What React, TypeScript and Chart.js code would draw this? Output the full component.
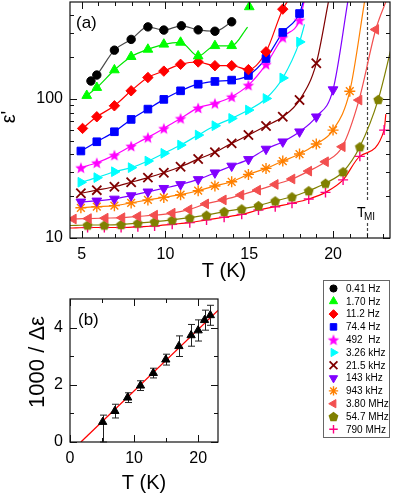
import React, { useEffect, useRef } from 'react';
import { Chart, registerables } from 'chart.js';
import { drawPoint } from 'chart.js/helpers';

Chart.register(...registerables);

const FONT = "'Liberation Sans', Arial, Helvetica, sans-serif";

// ---------- Panel (a): epsilon' vs T ----------
const LABELS = ['0.41 Hz', '1.70 Hz', '11.2 Hz', '74.4 Hz', '492  Hz', '3.26 kHz', '21.5 kHz', '143 kHz', '943 kHz', '3.80 MHz', '54.7 MHz', '790 MHz'];

const T_041 = [5.55, 5.9, 6.95, 7.95, 8.95, 9.9, 10.95, 11.95, 12.95, 13.95];
const E_041 = [135, 149, 225, 269, 331, 314, 337, 315, 308, 360];

const T_170 = [5.3, 5.9, 6.95, 7.95, 8.95, 9.9, 10.9, 11.95, 12.95, 13.95, 15.0];
const E_170 = [106, 121, 162, 202, 228, 248, 256, 204, 242, 242, 461];

const T_112 = [5.05, 5.9, 6.95, 7.95, 8.95, 9.9, 10.9, 11.95, 12.95, 13.95, 14.95, 16.0, 17.0];
const E_112 = [61.5, 74.6, 89.5, 114.7, 143, 159, 178, 185, 174, 174, 163, 219, 444];

const T_744 = [4.95, 5.9, 6.95, 7.95, 8.95, 9.9, 10.9, 11.95, 12.95, 13.95, 14.95, 16.0, 17.0, 18.0];
const E_744 = [42.3, 49.3, 58.2, 71.4, 84.7, 99.5, 114.7, 128, 134, 137, 148, 196, 302, 413];

const T_492 = [4.95, 5.9, 6.95, 7.95, 8.95, 9.9, 10.9, 11.95, 12.95, 13.95, 14.95, 16.0, 17.0, 18.0];
const E_492 = [32.1, 34.8, 39.5, 45.9, 53, 61.5, 72.6, 86.4, 93.1, 103.9, 126, 178, 278, 370];

const T_326 = [4.95, 5.9, 6.95, 7.95, 8.95, 9.9, 10.9, 11.95, 12.95, 13.95, 14.95, 16.0, 17.0, 18.0];
const E_326 = [25.2, 27.2, 30, 32.1, 35.8, 40.7, 46.7, 55.1, 64.3, 72.6, 83.4, 101, 142, 258];

const T_215 = [4.95, 5.9, 6.95, 7.95, 8.95, 9.9, 10.9, 11.95, 12.95, 13.95, 14.95, 16.0, 17.0, 18.0, 19.0];
const E_215 = [21, 22.1, 23.4, 25.2, 27.2, 29.5, 32.6, 37, 41.4, 48, 55.1, 64, 74.6, 98.4, 181];

const T_143 = [4.95, 5.9, 6.95, 7.95, 8.95, 9.9, 10.9, 11.95, 12.95, 13.95, 14.95, 16.0, 17.0, 18.0, 19.0, 20.0];
const E_143 = [18.2, 18.5, 19.1, 20.2, 21.5, 22.8, 24.3, 26.4, 29.5, 33, 36.8, 43.7, 49.3, 58.2, 74.6, 117];

const T_943 = [4.95, 5.9, 6.95, 7.95, 8.95, 9.9, 10.9, 11.95, 12.95, 13.95, 14.95, 16.0, 17.0, 18.0, 19.0, 20.0, 21.0];
const E_943 = [16.5, 16.8, 17.1, 17.9, 18.8, 19.6, 20.5, 21.9, 23.7, 25.4, 28.7, 31.7, 35.8, 40.2, 47.5, 59.8, 114];

const T_380 = [4.5, 5.4, 6.4, 7.4, 8.35, 9.35, 10.4, 11.4, 12.4, 13.45, 14.5, 15.5, 16.55, 17.55, 18.55, 19.55, 20.55, 21.55, 22.55];
const E_380 = [13.7, 13.8, 13.9, 14.0, 14.3, 14.6, 15.1, 16.0, 17.6, 18.8, 20.4, 22.1, 24.3, 26.6, 30.3, 35.4, 45.4, 98.4, 317];

const T_547 = [5.35, 6.35, 7.35, 8.35, 9.35, 10.4, 11.45, 12.45, 13.5, 14.55, 15.55, 16.55, 17.55, 18.55, 19.55, 20.6, 21.6, 22.7];
const E_547 = [12.4, 12.4, 12.5, 12.8, 13.1, 13.5, 14.0, 14.6, 15.5, 16.2, 17.1, 18.5, 19.8, 21.9, 24.8, 30, 45.4, 99.5];

const T_790 = [5.35, 6.35, 7.35, 8.35, 9.35, 10.4, 11.45, 12.45, 13.5, 14.55, 15.55, 16.55, 17.55, 18.55, 19.55, 20.6, 21.6, 23.05];
const E_790 = [11.9, 11.9, 11.9, 12.05, 12.2, 12.55, 12.9, 13.5, 14.1, 14.8, 15.9, 16.8, 17.8, 19.1, 21.3, 26.2, 38.7, 59.8];

// fit-curve end points (where each fitted curve starts / stops)
const FIT_START_T = [null, null, null, null, null, null, null, null, null, 4.3, 4.3, 4.3];
const FIT_START_E = [null, null, null, null, null, null, null, null, null, 13.6, 12.3, 11.8];
const FIT_END_T = [null, 14.9, 17.35, 18.25, 18.3, 18.3, 19.75, 20.9, 21.9, 23.2, 23.5, 23.15];
const FIT_END_E = [null, 330, 520, 520, 520, 345, 520, 520, 520, 520, 240, 78];

const T_MI = 22;

const A_X_MAJOR = [5, 10, 15, 20];
const A_X_MINOR = [6, 7, 8, 9, 11, 12, 13, 14, 16, 17, 18, 19, 21, 22, 23];
const A_Y_MAJOR = [10, 100];
const A_Y_MINOR = [20, 30, 40, 50, 60, 70, 80, 90, 200, 300, 400];

// ---------- Panel (b): 1000/Δε vs T ----------
const B_T = [5.1, 7.0, 9.0, 11.0, 13.0, 14.95, 17.0, 18.9, 20.0, 21.0, 21.9];
const B_V = [0.70, 1.08, 1.55, 1.97, 2.41, 2.88, 3.35, 3.73, 3.90, 4.26, 4.43];
const B_ERR_LO = [0.70, 0.24, 0.17, 0.17, 0.17, 0.19, 0.36, 0.38, 0.37, 0.35, 0.35];
const B_ERR_HI = [0.24, 0.24, 0.17, 0.17, 0.17, 0.19, 0.36, 0.38, 0.37, 0.35, 0.35];
const B_FIT_T = [1.7, 23.1];
const B_FIT_V = [0, 4.6];

const B_X_MAJOR = [0, 10, 20];
const B_X_MINOR = [5, 15];
const B_Y_MAJOR = [0, 2, 4];
const B_Y_MINOR = [1, 3];

function zip(t: number[], e: number[]) {
  return t.map((x, i) => ({ x, y: e[i] }));
}

function makeStar(color: string, R: number, r: number) {
  const c = document.createElement('canvas');
  const s = Math.ceil(R * 2 + 2);
  c.width = s; c.height = s;
  const g = c.getContext('2d')!;
  g.fillStyle = color;
  g.beginPath();
  for (let k = 0; k < 10; k++) {
    const a = -Math.PI / 2 + (k * Math.PI) / 5;
    const rr = k % 2 === 0 ? R : r;
    const px = s / 2 + rr * Math.cos(a), py = s / 2 + rr * Math.sin(a) + 0.6;
    if (k === 0) g.moveTo(px, py); else g.lineTo(px, py);
  }
  g.closePath();
  g.fill();
  return c;
}

function makePentagon(color: string, R: number) {
  const c = document.createElement('canvas');
  const s = Math.ceil(R * 2 + 2);
  c.width = s; c.height = s;
  const g = c.getContext('2d')!;
  g.fillStyle = color;
  g.beginPath();
  for (let k = 0; k < 5; k++) {
    const a = -Math.PI / 2 + (k * 2 * Math.PI) / 5;
    const px = s / 2 + R * Math.cos(a), py = s / 2 + R * Math.sin(a) + 0.5;
    if (k === 0) g.moveTo(px, py); else g.lineTo(px, py);
  }
  g.closePath();
  g.fill();
  return c;
}

function drawAxesFrame(chart: any, xMaj: number[], xMin: number[], yMaj: number[], yMin: number[], majLen: number, minLen: number) {
  const { ctx, chartArea } = chart;
  const { left, right, top, bottom } = chartArea;
  const sx = chart.scales.x, sy = chart.scales.y;
  ctx.save();
  ctx.strokeStyle = '#111';
  ctx.lineWidth = 1.2;
  ctx.strokeRect(left, top, right - left, bottom - top);
  ctx.lineWidth = 1;
  ctx.beginPath();
  const vx = (v: number, len: number) => {
    const p = Math.round(sx.getPixelForValue(v)) + 0.5;
    ctx.moveTo(p, bottom); ctx.lineTo(p, bottom - len);
    ctx.moveTo(p, top); ctx.lineTo(p, top + len);
  };
  const vy = (v: number, len: number) => {
    const p = Math.round(sy.getPixelForValue(v)) + 0.5;
    ctx.moveTo(left, p); ctx.lineTo(left + len, p);
    ctx.moveTo(right, p); ctx.lineTo(right - len, p);
  };
  xMaj.forEach((v) => vx(v, majLen));
  xMin.forEach((v) => vx(v, minLen));
  yMaj.forEach((v) => vy(v, majLen));
  yMin.forEach((v) => vy(v, minLen));
  ctx.stroke();
  ctx.restore();
}

function rotatedText(ctx: CanvasRenderingContext2D, text: string, x: number, y: number, font: string) {
  ctx.save();
  ctx.translate(x, y);
  ctx.rotate(-Math.PI / 2);
  ctx.font = font;
  ctx.fillStyle = '#000';
  ctx.textAlign = 'center';
  ctx.textBaseline = 'alphabetic';
  ctx.fillText(text, 0, 0);
  ctx.restore();
}

const fixX = (h: number) => (s: any) => { s.height = h; s.paddingLeft = 0; s.paddingRight = 0; s.paddingTop = 0; s.paddingBottom = 0; };
const fixY = (w: number) => (s: any) => { s.width = w; s.paddingTop = 0; s.paddingBottom = 0; s.paddingLeft = 0; s.paddingRight = 0; };

export default function App() {
  const refA = useRef<HTMLCanvasElement>(null);
  const refB = useRef<HTMLCanvasElement>(null);

  useEffect(() => {
    Chart.defaults.font.family = FONT;
    Chart.defaults.color = '#000';

    const starImg = makeStar('#ff00ff', 6, 2.6);
    const pentImg = makePentagon('#808000', 5.2);

    const STYLES: any[] = [
      { color: '#000000', line: '#4a4a4a', style: 'circle', r: 4.2, rot: 0, bw: 1 },
      { color: '#00ff00', line: '#00e600', style: 'triangle', r: 5.6, rot: 0, bw: 1 },
      { color: '#ff0000', line: '#ff0000', style: 'rectRot', r: 5.2, rot: 0, bw: 1 },
      { color: '#0000ff', line: '#0000ff', style: 'rect', r: 5.4, rot: 0, bw: 1 },
      { color: '#ff00ff', line: '#ff00ff', style: starImg, r: 5, rot: 0, bw: 0 },
      { color: '#00ffff', line: '#00f0f0', style: 'triangle', r: 5.6, rot: 90, bw: 1 },
      { color: '#800000', line: '#800000', style: 'crossRot', r: 6.5, rot: 0, bw: 1.8 },
      { color: '#8000ff', line: '#8000ff', style: 'triangle', r: 5.6, rot: 180, bw: 1 },
      { color: '#ff8000', line: '#ff8000', style: 'star', r: 5.5, rot: 0, bw: 1.4 },
      { color: '#f24f4f', line: '#f24f4f', style: 'triangle', r: 5.6, rot: 270, bw: 1 },
      { color: '#808000', line: '#808000', style: pentImg, r: 5, rot: 0, bw: 0 },
      { color: '#ff0080', line: '#ff0000', style: 'cross', r: 5, rot: 0, bw: 1.4 },
    ];

    const SERIES_T = [T_041, T_170, T_112, T_744, T_492, T_326, T_215, T_143, T_943, T_380, T_547, T_790];
    const SERIES_E = [E_041, E_170, E_112, E_744, E_492, E_326, E_215, E_143, E_943, E_380, E_547, E_790];

    const datasetsA: any[] = [];
    SERIES_T.forEach((t, i) => {
      const st = STYLES[i];
      const pts = zip(t, SERIES_E[i]);
      const endT = FIT_END_T[i];
      const linePts = [
        ...(FIT_START_T[i] != null ? [{ x: FIT_START_T[i] as number, y: FIT_START_E[i] as number }] : []),
        ...pts.filter((p) => endT == null || p.x < endT),
        ...(endT != null ? [{ x: endT as number, y: FIT_END_E[i] as number }] : []),
      ];
      datasetsA.push({
        label: LABELS[i] + ' fit', data: linePts, borderColor: st.line, borderWidth: 1.2,
        pointRadius: 0, cubicInterpolationMode: 'monotone', fill: false, order: 2,
      });
      datasetsA.push({
        label: LABELS[i], data: pts, showLine: false, pointStyle: st.style, pointRadius: st.r,
        pointRotation: st.rot, backgroundColor: st.color, borderColor: st.color,
        pointBorderWidth: st.bw, order: 1,
      });
    });

    const pluginA = {
      id: 'panelA',
      beforeDatasetsDraw(chart: any) {
        const { ctx, chartArea } = chart;
        const px = Math.round(chart.scales.x.getPixelForValue(T_MI)) + 0.5;
        ctx.save();
        ctx.strokeStyle = '#444';
        ctx.lineWidth = 1.2;
        ctx.setLineDash([3, 2]);
        ctx.beginPath();
        ctx.moveTo(px, chartArea.top);
        ctx.lineTo(px, 201);
        ctx.moveTo(px, 223);
        ctx.lineTo(px, chartArea.bottom);
        ctx.stroke();
        ctx.restore();
      },
      afterDraw(chart: any) {
        const { ctx, chartArea } = chart;
        drawAxesFrame(chart, A_X_MAJOR, A_X_MINOR, A_Y_MAJOR, A_Y_MINOR, 7, 4);
        ctx.save();
        ctx.fillStyle = '#000';
        ctx.textBaseline = 'alphabetic';
        ctx.textAlign = 'left';
        ctx.font = `17px ${FONT}`;
        ctx.fillText('(a)', 76, 28);
        const px = chart.scales.x.getPixelForValue(T_MI);
        ctx.font = `14px ${FONT}`;
        ctx.fillText('T', px - 9.5, 217);
        ctx.font = `10px ${FONT}`;
        ctx.fillText('MI', px - 2.5, 220);
        ctx.textAlign = 'center';
        ctx.font = `20px ${FONT}`;
        ctx.fillText('T (K)', (chartArea.left + chartArea.right) / 2 - 6, 277);
        ctx.restore();
        rotatedText(ctx, "ε'", 15, 117, `20px ${FONT}`);
      },
    };

    const chartA = new Chart(refA.current!, {
      type: 'line',
      data: { datasets: datasetsA },
      options: {
        animation: false,
        responsive: false,
        events: [],
        layout: { autoPadding: false, padding: { left: 0, right: 5, top: 2, bottom: 0 } },
        plugins: { legend: { display: false }, tooltip: { enabled: false } },
        scales: {
          x: {
            type: 'linear', min: 4.3, max: 23.4,
            grid: { display: false, drawTicks: false },
            border: { display: false },
            ticks: { font: { size: 16 }, padding: 7, maxRotation: 0, callback: (v: any) => String(v) },
            afterBuildTicks: (s: any) => { s.ticks = A_X_MAJOR.map((value) => ({ value })); },
            afterFit: fixX(52),
          },
          y: {
            type: 'logarithmic', min: 10, max: 500,
            grid: { display: false, drawTicks: false },
            border: { display: false },
            ticks: { font: { size: 16 }, padding: 7, callback: (v: any) => String(v) },
            afterBuildTicks: (s: any) => { s.ticks = A_Y_MAJOR.map((value) => ({ value })); },
            afterFit: fixY(70),
          },
        },
      } as any,
      plugins: [pluginA],
    });

    const pluginB = {
      id: 'panelB',
      beforeDatasetsDraw(chart: any) {
        const { ctx } = chart;
        const sx = chart.scales.x, sy = chart.scales.y;
        ctx.save();
        ctx.strokeStyle = '#222';
        ctx.lineWidth = 1;
        ctx.beginPath();
        B_T.forEach((t, i) => {
          const px = Math.round(sx.getPixelForValue(t)) + 0.5;
          const yHi = sy.getPixelForValue(B_V[i] + B_ERR_HI[i]);
          const yLo = sy.getPixelForValue(B_V[i] - B_ERR_LO[i]);
          ctx.moveTo(px, yHi); ctx.lineTo(px, yLo);
          ctx.moveTo(px - 3.5, yHi); ctx.lineTo(px + 3.5, yHi);
          ctx.moveTo(px - 3.5, yLo); ctx.lineTo(px + 3.5, yLo);
        });
        ctx.stroke();
        ctx.restore();
      },
      afterDraw(chart: any) {
        const { ctx, chartArea } = chart;
        drawAxesFrame(chart, B_X_MAJOR, B_X_MINOR, B_Y_MAJOR, B_Y_MINOR, 7, 4);
        ctx.save();
        ctx.fillStyle = '#000';
        ctx.textBaseline = 'alphabetic';
        ctx.textAlign = 'left';
        ctx.font = `17px ${FONT}`;
        ctx.fillText('(b)', 78, 55);
        ctx.textAlign = 'center';
        ctx.font = `20px ${FONT}`;
        ctx.fillText('T (K)', (chartArea.left + chartArea.right) / 2, 218.5);
        ctx.restore();
        rotatedText(ctx, '1000 / Δε', 44, 92, `22px ${FONT}`);

        // legend for panel (a)
        ctx.save();
        ctx.strokeStyle = '#666';
        ctx.lineWidth = 1;
        ctx.strokeRect(323.5, 10.5, 66, 157);
        ctx.font = `10px ${FONT}`;
        ctx.textBaseline = 'middle';
        ctx.textAlign = 'left';
        LABELS.forEach((lab, i) => {
          const st = STYLES[i];
          const y = 18.5 + i * 12.8;
          ctx.fillStyle = st.color;
          ctx.strokeStyle = st.color;
          ctx.lineWidth = st.bw || 1;
          drawPoint(ctx, { pointStyle: st.style, rotation: st.rot, radius: st.r * 0.85, borderWidth: st.bw }, 333.5, y);
          ctx.fillStyle = '#000';
          ctx.fillText(lab, 346, y + 0.5);
        });
        ctx.restore();
      },
    };

    const chartB = new Chart(refB.current!, {
      type: 'line',
      data: {
        datasets: [
          {
            label: 'fit', data: zip(B_FIT_T, B_FIT_V), borderColor: '#ff0000', borderWidth: 1.3,
            pointRadius: 0, fill: false, order: 2,
          },
          {
            label: '1000/Δε', data: zip(B_T, B_V), showLine: false, pointStyle: 'triangle',
            pointRadius: 4.8, backgroundColor: '#000', borderColor: '#000', pointBorderWidth: 1, order: 1,
          },
        ],
      },
      options: {
        animation: false,
        responsive: false,
        events: [],
        layout: { autoPadding: false, padding: { left: 0, right: 177, top: 29, bottom: 0 } },
        plugins: { legend: { display: false }, tooltip: { enabled: false } },
        scales: {
          x: {
            type: 'linear', min: 0, max: 23.1,
            grid: { display: false, drawTicks: false },
            border: { display: false },
            ticks: { font: { size: 16 }, padding: 7, maxRotation: 0, callback: (v: any) => String(v) },
            afterBuildTicks: (s: any) => { s.ticks = B_X_MAJOR.map((value) => ({ value })); },
            afterFit: fixX(56),
          },
          y: {
            type: 'linear', min: 0, max: 5,
            grid: { display: false, drawTicks: false },
            border: { display: false },
            ticks: { font: { size: 16 }, padding: 7, callback: (v: any) => String(v) },
            afterBuildTicks: (s: any) => { s.ticks = B_Y_MAJOR.map((value) => ({ value })); },
            afterFit: fixY(70),
          },
        },
      } as any,
      plugins: [pluginB],
    });

    return () => {
      chartA.destroy();
      chartB.destroy();
    };
  }, []);

  return (
    <div style={{ position: 'absolute', left: 0, top: 0, width: 395, height: 498, background: '#fff' }}>
      <canvas ref={refA} width={395} height={290} style={{ position: 'absolute', left: 0, top: 0 }} />
      <canvas ref={refB} width={395} height={228} style={{ position: 'absolute', left: 0, top: 270 }} />
    </div>
  );
}
